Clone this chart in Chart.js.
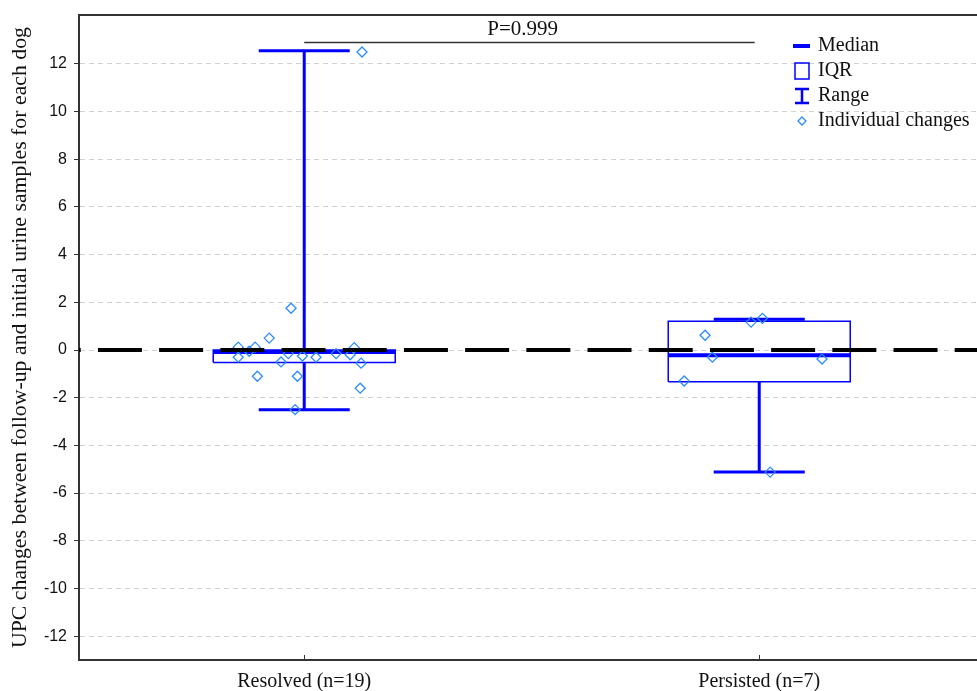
<!DOCTYPE html>
<html>
<head>
<meta charset="utf-8">
<script src="https://cdn.jsdelivr.net/npm/chart.js@4.4.1/dist/chart.umd.min.js"></script>
<style>
  html, body { margin: 0; padding: 0; background: #fff; }
  #wrap { width: 977px; height: 691px; }
</style>
</head>
<body>
<div id="wrap"><canvas id="upcChart" width="977" height="691"></canvas></div>
<script>
// group summaries
const groups = ['Resolved (n=19)', 'Persisted (n=7)'];
const groupPos = [1, 2];
const medians = [-0.08, -0.22];
const q1 = [-0.52, -1.33];
const q3 = [0.0, 1.21];
const mins = [-2.5, -5.12];
const maxs = [12.55, 1.29];

// individual dogs (x is the jitter used in the figure)
const resolvedX = [0.971, 0.923, 0.855, 0.855, 0.892, 0.879, 0.949, 0.965, 0.996, 1.026,
                   0.897, 0.985, 0.980, 1.070, 1.101, 1.110, 1.125, 1.123, 1.127];
const resolvedY = [1.75, 0.5, 0.12, -0.3, 0.12, -0.05, -0.5, -0.15, -0.25, -0.3,
                   -1.1, -1.1, -2.5, -0.15, -0.2, 0.1, -0.55, -1.6, 12.5];
const persistedX = [1.982, 2.007, 1.881, 1.897, 2.138, 1.835, 2.024];
const persistedY = [1.17, 1.33, 0.62, -0.3, -0.38, -1.3, -5.12];

const yTicks = [-12, -10, -8, -6, -4, -2, 0, 2, 4, 6, 8, 10, 12];
const legendLabels = ['Median', 'IQR', 'Range', 'Individual changes'];
const pValueLabel = 'P=0.999';
const pBracket = { from: 1, to: 1.99, y: 12.9, textX: 1.48, textY: 13.45 };

const BLUE = '#0000ff';
const DOT = '#2b8cff';
const BOX_HALF = 0.2;
const CAP_HALF = 0.1;

function pts(list) { return list.map(p => p === null ? { x: 0, y: null } : { x: p[0], y: p[1] }); }

const boxPts = [], medPts = [], whiskPts = [], capPts = [];
groupPos.forEach((x, i) => {
  boxPts.push([x - BOX_HALF, q1[i]], [x + BOX_HALF, q1[i]], [x + BOX_HALF, q3[i]],
              [x - BOX_HALF, q3[i]], [x - BOX_HALF, q1[i]], null);
  medPts.push([x - BOX_HALF, medians[i]], [x + BOX_HALF, medians[i]], null);
  whiskPts.push([x, q3[i]], [x, maxs[i]], null, [x, q1[i]], [x, mins[i]], null);
  capPts.push([x - CAP_HALF, maxs[i]], [x + CAP_HALF, maxs[i]], null,
              [x - CAP_HALF, mins[i]], [x + CAP_HALF, mins[i]], null);
});

const dogs = resolvedX.map((x, i) => ({ x, y: resolvedY[i] }))
  .concat(persistedX.map((x, i) => ({ x, y: persistedY[i] })));

const lineDefaults = { type: 'line', pointRadius: 0, fill: false, spanGaps: false, tension: 0 };

// frame, inward x ticks, p-value bracket and the legend box
const extras = {
  id: 'extras',
  afterDraw(chart) {
    const { ctx, chartArea: a, scales } = chart;
    const xs = scales.x, ys = scales.y;
    ctx.save();
    ctx.strokeStyle = '#333';
    ctx.lineWidth = 2;
    ctx.beginPath();
    ctx.moveTo(a.left, a.top);
    ctx.lineTo(a.right, a.top);
    ctx.stroke();
    ctx.lineWidth = 1;
    groupPos.forEach(v => {
      const px = Math.round(xs.getPixelForValue(v)) + 0.5;
      ctx.beginPath();
      ctx.moveTo(px, a.bottom);
      ctx.lineTo(px, a.bottom - 5);
      ctx.stroke();
    });

    // bracket
    ctx.strokeStyle = '#333';
    ctx.lineWidth = 1.5;
    const by = ys.getPixelForValue(pBracket.y);
    ctx.beginPath();
    ctx.moveTo(xs.getPixelForValue(pBracket.from), by);
    ctx.lineTo(xs.getPixelForValue(pBracket.to), by);
    ctx.stroke();
    ctx.fillStyle = '#111';
    ctx.font = '21px "Liberation Serif"';
    ctx.textAlign = 'center';
    ctx.textBaseline = 'middle';
    ctx.fillText(pValueLabel, xs.getPixelForValue(pBracket.textX), ys.getPixelForValue(pBracket.textY));

    // legend
    const lx = 802, ly = 46, step = 25;
    ctx.textAlign = 'left';
    ctx.font = '20px "Liberation Serif"';
    legendLabels.forEach((lab, i) => {
      const cy = ly + i * step;
      ctx.strokeStyle = BLUE;
      if (i === 0) {
        ctx.lineWidth = 4;
        ctx.beginPath(); ctx.moveTo(lx - 9, cy); ctx.lineTo(lx + 8, cy); ctx.stroke();
      } else if (i === 1) {
        ctx.lineWidth = 1.5;
        ctx.strokeRect(lx - 7, cy - 8, 14, 16);
      } else if (i === 2) {
        ctx.lineWidth = 2.5;
        ctx.beginPath();
        ctx.moveTo(lx - 7, cy - 7); ctx.lineTo(lx + 7, cy - 7);
        ctx.moveTo(lx, cy - 7); ctx.lineTo(lx, cy + 7);
        ctx.moveTo(lx - 7, cy + 7); ctx.lineTo(lx + 7, cy + 7);
        ctx.stroke();
      } else {
        ctx.strokeStyle = DOT;
        ctx.lineWidth = 1.3;
        ctx.beginPath();
        ctx.moveTo(lx, cy - 4); ctx.lineTo(lx + 4, cy); ctx.lineTo(lx, cy + 4); ctx.lineTo(lx - 4, cy);
        ctx.closePath(); ctx.stroke();
      }
      ctx.fillStyle = '#111';
      ctx.fillText(lab, lx + 16, cy);
    });
    ctx.restore();
  }
};

new Chart(document.getElementById('upcChart'), {
  type: 'scatter',
  data: {
    datasets: [
      { ...lineDefaults, label: 'zero', data: [{ x: 0.5, y: 0 }, { x: 2.48, y: 0 }],
        borderColor: '#000', borderWidth: 4, borderDash: [44, 17.2], borderDashOffset: 40 },
      { type: 'scatter', label: 'Individual changes', data: dogs, pointStyle: 'rectRot',
        pointRadius: 5, pointBorderWidth: 1.3, pointBorderColor: DOT, pointBackgroundColor: 'rgba(255,255,255,0)' },
      { ...lineDefaults, label: 'Median', data: pts(medPts), borderColor: BLUE, borderWidth: 4 },
      { ...lineDefaults, label: 'IQR', data: pts(boxPts), borderColor: BLUE, borderWidth: 1.5 },
      { ...lineDefaults, label: 'Range', data: pts(whiskPts), borderColor: BLUE, borderWidth: 3 },
      { ...lineDefaults, label: 'Caps', data: pts(capPts), borderColor: BLUE, borderWidth: 3 }
    ]
  },
  options: {
    responsive: false,
    animation: false,
    layout: { autoPadding: false, padding: { top: 15, right: 0, left: 0, bottom: 0 } },
    plugins: { legend: { display: false }, tooltip: { enabled: false } },
    scales: {
      x: {
        type: 'linear', min: 0.505, max: 2.4786,
        afterBuildTicks: s => { s.ticks = groupPos.map(v => ({ value: v })); },
        afterFit: s => { s.height = 31; s.paddingLeft = 0; s.paddingRight = 0; },
        grid: { display: false, drawTicks: false },
        border: { display: true, color: '#333', width: 2 },
        ticks: {
          padding: 10, color: '#111', font: { family: 'Liberation Serif', size: 20 },
          callback: v => groups[groupPos.indexOf(v)] || ''
        }
      },
      y: {
        min: -13, max: 14.05,
        afterBuildTicks: s => { s.ticks = yTicks.map(v => ({ value: v })); },
        afterFit: s => { s.width = 79; s.paddingTop = 0; s.paddingBottom = 0; },
        grid: { color: '#d2d2d2', tickLength: 5, tickColor: '#333', tickBorderDash: [] },
        border: { display: true, color: '#333', width: 2, dash: [5, 4] },
        ticks: { padding: 7, color: '#111', font: { family: 'Liberation Sans', size: 16 } },
        title: {
          display: true, text: 'UPC changes between follow-up and initial urine samples for each dog',
          color: '#111', font: { family: 'Liberation Serif', size: 21.8 }, padding: { top: 7, bottom: 0 }
        }
      }
    }
  },
  plugins: [extras]
});
</script>
</body>
</html>
